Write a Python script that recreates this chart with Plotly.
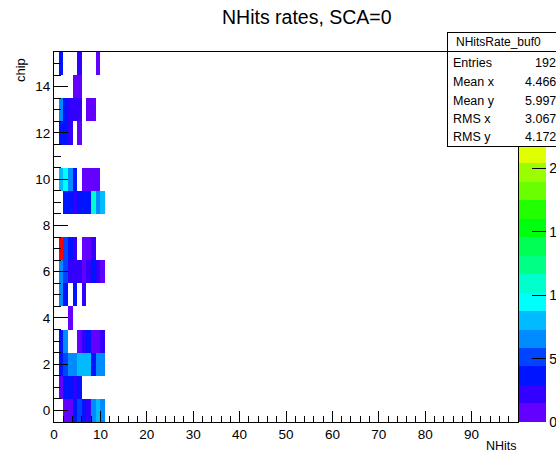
import colorsys
import numpy as np
import plotly.graph_objects as go

# ---------------- data ----------------
# one entry per filled cell: chip index, NHits bin (lower edge), rate
chip = [0, 0, 0, 0, 0, 0, 0, 0, 0,
        1, 1, 1, 1, 1,
        2, 2, 2, 2, 2, 2, 2, 2, 2, 2,
        3, 3, 3, 3, 3, 3, 3, 3,
        4,
        5, 5, 5, 5,
        6, 6, 6, 6, 6, 6, 6, 6, 6, 6,
        7, 7, 7, 7, 7, 7, 7,
        9, 9, 9, 9, 9, 9, 9, 9, 9,
        10, 10, 10, 10, 10, 10, 10, 10,
        12, 12, 12, 12,
        13, 13, 13, 13, 13, 13, 13,
        14, 14,
        15, 15, 15]
nhits = [2, 3, 4, 5, 6, 7, 8, 9, 10,
         1, 2, 3, 4, 5,
         1, 2, 3, 4, 5, 6, 7, 8, 9, 10,
         1, 2, 5, 6, 7, 8, 9, 10,
         3,
         1, 2, 4, 6,
         1, 2, 3, 4, 5, 6, 7, 8, 9, 10,
         1, 2, 3, 4, 6, 7, 8,
         2, 3, 4, 5, 6, 7, 8, 9, 10,
         1, 2, 3, 4, 6, 7, 8, 9,
         1, 2, 3, 5,
         1, 2, 3, 4, 5, 7, 8,
         4, 5,
         1, 5, 9]
rate = [0.7, 0.7, 3.6, 5.1, 3.6, 2.2, 6.6, 8.0, 6.6,
        0.7, 3.6, 3.6, 2.2, 3.6,
        3.6, 5.1, 6.6, 6.6, 8.0, 8.0, 8.0, 3.6, 6.6, 6.6,
        3.6, 6.6, 0.7, 2.2, 3.6, 0.7, 0.7, 2.2,
        0.7,
        6.6, 3.6, 3.6, 2.2,
        6.6, 5.1, 2.2, 2.2, 2.2, 0.7, 2.2, 3.6, 2.2, 0.7,
        28.5, 5.1, 3.6, 2.2, 0.7, 0.7, 2.2,
        3.6, 3.6, 2.2, 3.6, 3.6, 3.6, 11.0, 6.6, 8.0,
        8.0, 9.5, 6.6, 3.6, 0.7, 0.7, 0.7, 0.7,
        3.6, 3.6, 2.2, 0.7,
        6.6, 3.6, 2.2, 2.2, 2.2, 0.7, 0.7,
        0.7, 0.7,
        3.6, 2.2, 0.7]

n_chips = 16
n_bins_shown = 11
x_ticks = [0, 10, 20, 30, 40, 50, 60, 70, 80, 90]
y_ticks = [0, 2, 4, 6, 8, 10, 12, 14]
cbar_ticks = [0, 5, 10, 15, 20]
z_max = 29.2
n_contours = 20

title_text = "NHits rates, SCA=0"
x_title = "NHits"
y_title = "chip"
hist_name = "NHitsRate_buf0"
stat_names = ["Entries", "Mean x", "Mean y", "RMS x", "RMS y"]
stat_values = ["192", "4.466", "5.997", "3.067", "4.172"]

# ---------------- build grid ----------------
z = np.full((n_chips, n_bins_shown), np.nan)
for c, b, v in zip(chip, nhits, rate):
    z[c, b] = v
z_list = [[None if np.isnan(v) else float(v) for v in row] for row in z]
x_centers = (np.arange(n_bins_shown) + 0.5).tolist()
y_centers = list(range(n_chips))


# ROOT "pretty" palette (violet -> red), 50 colours, 20 contour bands
def pretty(k):
    hue = 280.0 - (k + 1) * 5.6
    r, g, b = colorsys.hls_to_rgb((hue % 360) / 360.0, 0.5, 1.0)
    return "rgb(%d,%d,%d)" % (round(r * 255), round(g * 255), round(b * 255))


colorscale = []
for band in range(n_contours):
    k = int((band + 0.99) * 50 / n_contours)
    col = pretty(k)
    colorscale.append([band / n_contours, col])
    colorscale.append([(band + 1) / n_contours, col])

# ---------------- layout geometry ----------------
W, H = 556, 452
L, R, T, B = 54, 38, 52, 30
PW, PH = W - L - R, H - T - B
FONT = "Liberation Sans, Arial, Helvetica, sans-serif"


def px(xp):
    return (xp - L) / PW


def py(yp):
    return (H - B - yp) / PH


fig = go.Figure()
fig.add_trace(go.Heatmap(
    x=x_centers, y=y_centers, z=z_list,
    zmin=0, zmax=z_max, colorscale=colorscale,
    hoverinfo="skip",
    colorbar=dict(
        x=px(519), xanchor="left", xref="paper", xpad=0,
        y=0.5, yanchor="middle", ypad=0, len=1, lenmode="fraction",
        thickness=27, outlinewidth=0,
        tickmode="array", tickvals=cbar_ticks,
        ticks="inside", ticklen=14, tickcolor="black", tickwidth=1,
        tickfont=dict(family=FONT, size=14, color="black"),
    ),
))

axis_common = dict(
    showgrid=False, zeroline=False, showline=True, linecolor="black",
    linewidth=1, mirror=True, ticks="inside", tickcolor="black",
    tickfont=dict(family=FONT, size=13.5, color="black"),
)
fig.update_xaxes(range=[0, 100], tickmode="array", tickvals=x_ticks,
                 ticklen=11,
                 minor=dict(tick0=0, dtick=2, ticks="inside", ticklen=6,
                            tickcolor="black"),
                 **axis_common)
fig.update_yaxes(range=[-0.5, 15.5], tickmode="array", tickvals=y_ticks,
                 ticklen=14,
                 minor=dict(tick0=0, dtick=0.5, ticks="inside", ticklen=7,
                            tickcolor="black"),
                 **axis_common)

ann = []
# title and axis titles
ann.append(dict(text=title_text, x=px(307), y=py(17), xref="paper", yref="paper",
                xanchor="center", yanchor="middle", showarrow=False,
                font=dict(family=FONT, size=19.5, color="black")))
ann.append(dict(text=x_title, x=px(519), y=py(446), xref="paper", yref="paper",
                xanchor="right", yanchor="middle", showarrow=False,
                font=dict(family=FONT, size=12.5, color="black")))
ann.append(dict(text=y_title, x=px(20), y=py(56), xref="paper", yref="paper",
                xanchor="center", yanchor="top", textangle=-90, showarrow=False,
                font=dict(family=FONT, size=13, color="black")))

# stats box (annotations are drawn on top of the colour bar)
ann.append(dict(text=".", x=px(447), y=py(32), xref="paper", yref="paper",
                xanchor="left", yanchor="top", width=125, height=113,
                bgcolor="white", bordercolor="black", borderwidth=1, borderpad=0,
                showarrow=False, font=dict(color="white", size=4)))
ann.append(dict(text=".", x=px(447), y=py(32), xref="paper", yref="paper",
                xanchor="left", yanchor="top", width=125, height=18,
                bgcolor="white", bordercolor="black", borderwidth=1, borderpad=0,
                showarrow=False, font=dict(color="white", size=4)))
ann.append(dict(text=hist_name, x=px(498), y=py(42), xref="paper", yref="paper",
                xanchor="center", yanchor="middle", showarrow=False,
                font=dict(family=FONT, size=12, color="black")))
row_y = [63, 82, 101, 119, 137]
for name, val, yy in zip(stat_names, stat_values, row_y):
    ann.append(dict(text=name, x=px(451), y=py(yy), xref="paper", yref="paper",
                    xanchor="left", yanchor="middle", showarrow=False,
                    font=dict(family=FONT, size=12.5, color="black")))
    ann.append(dict(text=val, x=px(558), y=py(yy), xref="paper", yref="paper",
                    xanchor="right", yanchor="middle", showarrow=False,
                    font=dict(family=FONT, size=12.5, color="black")))

fig.update_layout(
    width=W, height=H, autosize=False,
    margin=dict(l=L, r=R, t=T, b=B, pad=0, autoexpand=False),
    paper_bgcolor="white", plot_bgcolor="white",
    showlegend=False, annotations=ann,
)

fig.write_html("out.html")
